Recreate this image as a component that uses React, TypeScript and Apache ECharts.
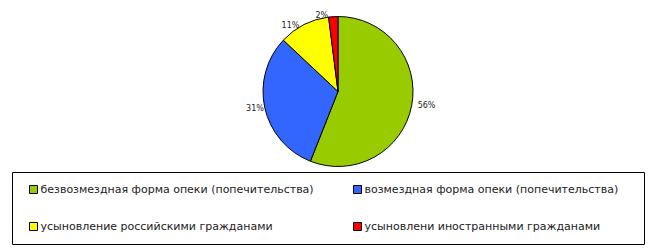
import React, { useEffect, useRef } from "react";
import * as echarts from "echarts";

const categories = [
  "безвозмездная форма опеки (попечительства)",
  "возмездная форма опеки (попечительства)",
  "усыновление российскими гражданами",
  "усыновлени иностранными гражданами",
];
const values = [56, 31, 11, 2];
const colors = ["#99CC00", "#3366FF", "#FFFF00", "#FF0000"];

const legendPos = [
  { left: 29, top: 184 },
  { left: 353, top: 184 },
  { left: 29, top: 221 },
  { left: 353, top: 221 },
];

export default function App() {
  const ref = useRef<HTMLDivElement>(null);
  useEffect(() => {
    const chart = echarts.init(ref.current!, undefined, { renderer: "svg" });
    const font = "Tahoma, 'DejaVu Sans', sans-serif";
    chart.setOption({
      animation: false,
      backgroundColor: "#ffffff",
      color: colors,
      graphic: [
        {
          type: "rect",
          shape: { x: 12.5, y: 172.5, width: 632, height: 72 },
          style: { fill: "none", stroke: "#000", lineWidth: 1 },
          z: 0,
        },
      ],
      legend: categories.map((name, i) => ({
        data: [name],
        left: legendPos[i].left,
        top: legendPos[i].top,
        orient: "horizontal",
        padding: 0,
        itemWidth: 8,
        itemHeight: 8,
        itemGap: 3,
        icon: "rect",
        selectedMode: false,
        itemStyle: { borderColor: "#000", borderWidth: 1 },
        textStyle: { fontFamily: font, fontSize: 11, color: "#222", padding: [0, 0, 0, -2] },
      })),
      series: [
        {
          type: "pie",
          center: [338, 91.5],
          radius: 75,
          startAngle: 90,
          clockwise: true,
          data: categories.map((name, i) => ({ name, value: values[i] })),
          itemStyle: { borderColor: "#000", borderWidth: 1 },
          label: {
            show: true,
            position: "outside",
            formatter: "{c}%",
            fontFamily: font,
            fontSize: 8,
            color: "#222",
          },
          labelLine: { show: false, length: 1, length2: 0 },
          emphasis: { disabled: true },
        },
      ],
    });
    return () => chart.dispose();
  }, []);
  return (
    <div
      ref={ref}
      style={{ position: "fixed", left: 0, top: 0, width: 657, height: 251 }}
    />
  );
}
